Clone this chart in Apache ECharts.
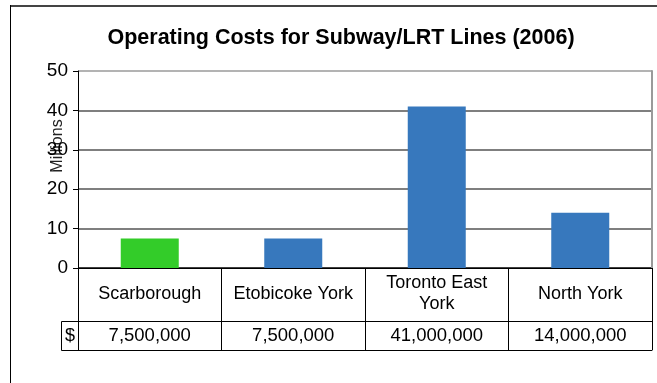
<!DOCTYPE html>
<html>
<head>
<meta charset="utf-8">
<title>Operating Costs for Subway/LRT Lines (2006)</title>
<script src="https://cdn.jsdelivr.net/npm/echarts@6/dist/echarts.min.js"></script>
<style>
  html, body { margin: 0; padding: 0; background: #fff; }
  #chart { width: 657px; height: 383px; }
</style>
</head>
<body>
<div id="chart"></div>
<script>
// Operating cost per line, millions of dollars
const categories = ['Scarborough', 'Etobicoke York', 'Toronto East\nYork', 'North York'];
const costMillions = [7.5, 7.5, 41, 14];
const costDollars = ['7,500,000', '7,500,000', '41,000,000', '14,000,000'];
const barColors = ['#33cc29', '#3778bd', '#3778bd', '#3778bd'];
const yTicks = { min: 0, max: 50, step: 10 };

const FONT = '"Liberation Sans", Arial, sans-serif';
const GRID = { left: 78, right: 5, top: 71, bottom: 115 };
const ROW1 = 53;   // height of the category row of the table
const ROW2 = 29;   // height of the dollar row

const chart = echarts.init(document.getElementById('chart'), null, { renderer: 'canvas' });

const option = {
  animation: false,
  textStyle: { fontFamily: FONT },
  title: {
    text: 'Operating Costs for Subway/LRT Lines (2006)',
    left: 336, textAlign: 'center', top: 22,
    textStyle: { fontFamily: FONT, fontSize: 21.5, fontWeight: 'bold', color: '#000' }
  },
  grid: { left: GRID.left, right: GRID.right, top: GRID.top, bottom: GRID.bottom, containLabel: false },
  xAxis: [
    {
      type: 'category', data: categories, position: 'bottom',
      axisLine: { show: true, onZero: false, lineStyle: { color: '#000', width: 1 } },
      axisTick: { show: true, interval: 0, length: ROW1 + ROW2, lineStyle: { color: '#000' } },
      axisLabel: {
        interval: 0, margin: 26, verticalAlign: 'middle', lineHeight: 21,
        fontSize: 18, color: '#000', fontFamily: FONT
      },
      splitLine: { show: false }
    },
    {
      type: 'category', data: costDollars, position: 'bottom', offset: ROW1,
      axisLine: { show: true, onZero: false, lineStyle: { color: '#000', width: 1 } },
      axisTick: { show: false },
      axisLabel: {
        interval: 0, margin: 15, verticalAlign: 'middle',
        fontSize: 18.5, color: '#000', fontFamily: FONT
      }
    },
    {
      type: 'category', data: costDollars, position: 'bottom', offset: ROW1 + ROW2,
      axisLine: { show: true, onZero: false, lineStyle: { color: '#000', width: 1 } },
      axisTick: { show: false },
      axisLabel: { show: false }
    }
  ],
  yAxis: [
    {
      type: 'value', min: yTicks.min, max: yTicks.max, interval: yTicks.step,
      name: 'Millions', nameLocation: 'middle', nameRotate: 90, nameGap: 12,
      nameMoveOverlap: false,
      nameTextStyle: { fontSize: 16, color: '#222', fontFamily: FONT, padding: [0, 0, 0, 47] },
      axisLine: { show: true, lineStyle: { color: '#000', width: 1 } },
      axisTick: { show: true, length: 5, lineStyle: { color: '#000' } },
      axisLabel: { fontSize: 19, color: '#000', margin: 10, fontFamily: FONT },
      splitLine: {
        show: true,
        lineStyle: { color: ['#000', '#555', '#555', '#555', '#555', '#9a9a9a'], width: 1.5 }
      }
    },
    {
      type: 'value', min: yTicks.min, max: yTicks.max, interval: yTicks.step, position: 'right',
      axisLine: { show: true, lineStyle: { color: '#9a9a9a', width: 2 } },
      axisTick: { show: false }, axisLabel: { show: false }, splitLine: { show: false }
    }
  ],
  series: [
    {
      type: 'bar', xAxisIndex: 0, yAxisIndex: 0,
      barWidth: 58,
      data: costMillions.map((v, i) => ({ value: v, itemStyle: { color: barColors[i] } }))
    }
  ],
  graphic: [
    // outer chart frame
    {
      type: 'line', shape: { x1: 10, y1: 6, x2: 657, y2: 6 },
      style: { stroke: '#444', lineWidth: 2 }, silent: true
    },
    {
      type: 'line', shape: { x1: 10.5, y1: 5, x2: 10.5, y2: 383 },
      style: { stroke: '#000', lineWidth: 1 }, silent: true
    },
    // "$" cell to the left of the dollar row
    {
      type: 'rect',
      shape: { x: 61.5, y: 383 - GRID.bottom + ROW1 + 0.5, width: GRID.left - 61.5 + 0.5, height: ROW2 },
      style: { fill: 'none', stroke: '#000', lineWidth: 1 }, silent: true
    },
    {
      type: 'text', x: (61 + GRID.left) / 2 + 0.5, y: 383 - GRID.bottom + ROW1 + ROW2 / 2 + 1,
      style: { text: '$', fontSize: 18, fontFamily: FONT, fill: '#000', align: 'center', verticalAlign: 'middle' },
      silent: true
    }
  ]
};

chart.setOption(option);
</script>
</body>
</html>
